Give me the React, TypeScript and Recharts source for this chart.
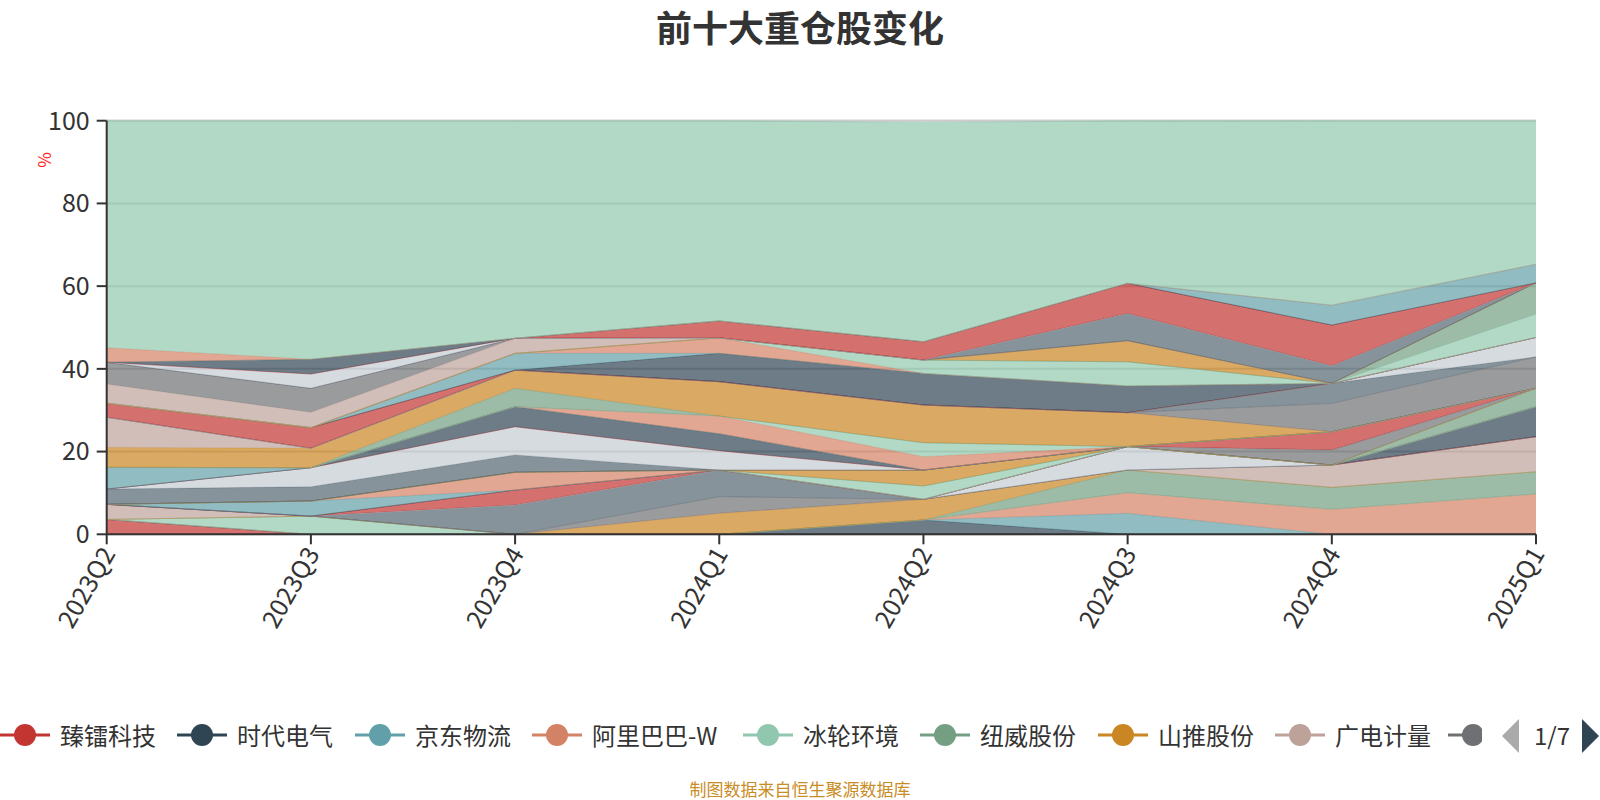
import React from "react";
import { AreaChart, Area, XAxis, YAxis, CartesianGrid } from "recharts";

const quarters = ["2023Q2", "2023Q3", "2023Q4", "2024Q1", "2024Q2", "2024Q3", "2024Q4", "2025Q1"];

// 只有图例第一页的名称可见
const stockNames = ["臻镭科技", "时代电气", "京东物流", "阿里巴巴-W", "冰轮环境", "纽威股份", "山推股份", "广电计量"];

// 占净值比(%)，按系列顺序自下而上堆叠
const weights: number[][] = [
  [3.6, 0, 0, 0, 0, 0, 0, 0],
  [0, 0, 0, 0, 3.46, 0, 0, 0],
  [0, 0, 0, 0, 0, 5.07, 0, 0],
  [0, 0, 0, 0, 0, 5.0, 6.04, 9.74],
  [0, 4.4, 0, 0, 0, 0, 0, 0],
  [0, 0, 0, 0, 0, 5.48, 5.32, 5.4],
  [0, 0, 0, 5.07, 5.0, 0, 0, 0],
  [3.65, 0, 0, 0, 0, 0, 5.39, 8.46],
  [0, 0, 0, 4.03, 0, 0, 0, 0],
  [0, 0, 7.08, 6.45, 0, 0, 0, 0],
  [0, 0, 0, 0, 0, 5.66, 0, 0],
  [0, 0, 3.62, 0, 0, 0, 0, 0],
  [0, 0, 0, 0, 0, 0, 0, 7.25],
  [0, 3.65, 0, 0, 0, 0, 0, 0],
  [0, 0, 4.3, 0, 0, 0, 0, 0],
  [0, 0, 0, 0, 3.22, 0, 0, 0],
  [0, 0, 0, 0, 0, 0, 0, 4.45],
  [0, 0, 0, 0, 3.86, 0, 0, 0],
  [0, 0, 0, 0, 0, 0, 3.63, 0],
  [3.7, 3.45, 4.2, 0, 0, 0, 0, 0],
  [0, 4.6, 6.8, 4.65, 0, 0, 0, 0],
  [0, 0, 0, 0, 0, 0, 4.42, 0],
  [0, 0, 4.85, 4.1, 0, 0, 0, 0],
  [5.25, 0, 0, 0, 0, 0, 0, 0],
  [0, 0, 0, 4.3, 3.22, 0, 0, 0],
  [0, 0, 0, 0, 3.39, 0, 0, 0],
  [0, 0, 4.45, 0, 0, 0, 0, 0],
  [4.8, 4.7, 4.4, 8.3, 9.1, 8.2, 0, 0],
  [7.3, 0, 0, 0, 0, 0, 0, 0],
  [0, 0, 0, 0, 0, 0, 6.87, 7.6],
  [0, 0, 0, 0, 0, 0, 4.83, 0],
  [0, 0, 0, 0, 0, 0, 0, 4.7],
  [3.4, 5.0, 0, 0, 0, 0, 0, 0],
  [0, 0, 0, 6.85, 7.65, 6.45, 0, 0],
  [0, 0, 4.05, 0, 0, 0, 0, 0],
  [0, 0, 0, 3.75, 0, 0, 0, 0],
  [0, 0, 0, 0, 3.23, 5.85, 0, 5.65],
  [0, 0, 0, 0, 0, 0, 0, 7.55],
  [0, 0, 0, 0, 0, 5.1, 0, 0],
  [4.65, 3.7, 3.65, 0, 0, 0, 0, 0],
  [5.25, 5.8, 0, 0, 0, 0, 0, 0],
  [0, 0, 0, 0, 0, 6.6, 4.26, 0],
  [0, 3.45, 0, 0, 0, 0, 0, 0],
  [0, 0, 0, 4.1, 4.43, 7.27, 9.84, 0],
  [0, 3.55, 0, 0, 0, 0, 0, 0],
  [0, 0, 0, 0, 0, 0, 4.8, 4.5],
  [3.5, 0, 0, 0, 0, 0, 0, 0],
];

const otherWeights = [54.9, 57.7, 52.6, 48.4, 53.0, 39.3, 44.6, 34.7];

const yTicks = [0, 20, 40, 60, 80, 100];

const palette = ["#c23531", "#2f4554", "#61a0a8", "#d48265", "#91c7ae", "#749f83", "#ca8622", "#bda29a", "#6e7074", "#546570", "#c4ccd3"];
// 原系列第 19 个在这些季度里没有持仓，后面的颜色顺延一位
const colorOf = (i: number) => palette[(i < 18 ? i : i + 1) % 11];
const otherColor = palette[4];

const FONT = "'Noto Sans CJK SC', 'Noto Sans', sans-serif";

const rows = quarters.map((q, qi) => {
  const row: Record<string, any> = { quarter: q };
  weights.forEach((w, si) => {
    row[`s${si}`] = w[qi];
  });
  row.other = otherWeights[qi];
  return row;
});

const QuarterTick = (props: any) => {
  const { x, y, payload } = props;
  return (
    <text
      x={x}
      y={y}
      textAnchor="end"
      dominantBaseline="central"
      transform={`rotate(-60 ${x} ${y})`}
      fontSize={25}
      fill="#333"
      fontFamily={FONT}
    >
      {payload.value}
    </text>
  );
};

const legendX = [25, 202, 380, 557, 768, 945, 1123, 1300, 1473];

export default function App() {
  return (
    <div style={{ position: "absolute", left: 0, top: 0, width: 1600, height: 800, background: "#fff", fontFamily: FONT, overflow: "hidden" }}>
      <div style={{ position: "absolute", left: 0, width: 1600, top: 4, textAlign: "center", fontSize: 36, fontWeight: "bold", color: "#333", lineHeight: "44px" }}>
        前十大重仓股变化
      </div>
      <div style={{ position: "absolute", left: 36, top: 152, width: 16, height: 16, color: "#f22", fontSize: 17, lineHeight: "16px", transform: "rotate(-90deg)", textAlign: "center" }}>
        %
      </div>
      <AreaChart width={1600} height={800} data={rows} margin={{ top: 120.7, right: 64, left: 0, bottom: 205.7 }}>
        <CartesianGrid vertical={false} stroke="#ccc" strokeWidth={2} />
        <XAxis
          dataKey="quarter"
          height={60}
          interval={0}
          tick={<QuarterTick />}
          tickSize={10}
          tickMargin={4}
          axisLine={{ stroke: "#333", strokeWidth: 2 }}
          tickLine={{ stroke: "#333", strokeWidth: 2 }}
        />
        <YAxis
          width={106.7}
          domain={[0, 100]}
          ticks={yTicks}
          tickSize={10}
          tickMargin={7}
          tick={{ fontSize: 25, fill: "#333", fontFamily: FONT }}
          axisLine={{ stroke: "#333", strokeWidth: 2 }}
          tickLine={{ stroke: "#333", strokeWidth: 2 }}
        />
        {weights.map((_, si) => (
          <Area
            key={si}
            type="linear"
            dataKey={`s${si}`}
            name={stockNames[si] ?? `s${si}`}
            stackId="1"
            stroke={colorOf(si)}
            strokeWidth={1}
            strokeOpacity={0.55}
            fill={colorOf(si)}
            fillOpacity={0.7}
            dot={false}
            activeDot={false}
            isAnimationActive={false}
          />
        ))}
        <Area
          type="linear"
          dataKey="other"
          name="其他"
          stackId="1"
          stroke={otherColor}
          strokeWidth={1}
          strokeOpacity={0.55}
          fill={otherColor}
          fillOpacity={0.7}
          dot={false}
          activeDot={false}
          isAnimationActive={false}
        />
      </AreaChart>

      {/* 图例（滚动式，第一页） */}
      <div style={{ position: "absolute", left: 0, top: 715, width: 1482, height: 40, overflow: "hidden" }}>
        {legendX.map((cx, i) => (
          <div key={i} style={{ position: "absolute", left: cx - 25, top: 0, height: 40, display: "flex", alignItems: "center", whiteSpace: "nowrap" }}>
            <svg width={50} height={40}>
              <line x1={0} y1={20} x2={50} y2={20} stroke={colorOf(i)} strokeWidth={3} />
              <circle cx={25} cy={20} r={11} fill={colorOf(i)} />
            </svg>
            {stockNames[i] && <span style={{ marginLeft: 10, fontSize: 24, color: "#333", lineHeight: "40px" }}>{stockNames[i]}</span>}
          </div>
        ))}
      </div>
      <svg style={{ position: "absolute", left: 1498, top: 718 }} width={102} height={36}>
        <polygon points="4,18 21,1 21,35" fill="#aaa" />
        <polygon points="84,1 101,18 84,35" fill="#2f4554" />
      </svg>
      <div style={{ position: "absolute", left: 1530, top: 715, width: 44, textAlign: "center", fontSize: 24, color: "#333", lineHeight: "40px" }}>
        1/7
      </div>
      <div style={{ position: "absolute", left: 0, width: 1600, top: 777, textAlign: "center", fontSize: 17, color: "#c98d26", lineHeight: "24px" }}>
        制图数据来自恒生聚源数据库
      </div>
    </div>
  );
}
